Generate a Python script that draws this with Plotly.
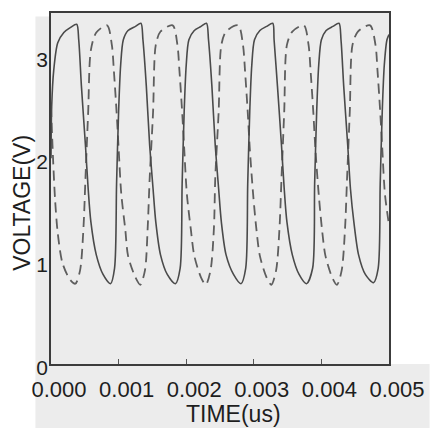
import plotly.graph_objects as go

# ---- data (time in us, voltage in V) ----
time_solid = [0, 0.00001, 0.00004, 0.00010, 0.00019, 0.00029, 0.00038,
              0.00041, 0.00045, 0.00051, 0.00055, 0.00059, 0.00067, 0.00077, 0.00088,
              0.00094, 0.00097, 0.00100, 0.00103, 0.00107, 0.00114, 0.00125, 0.00133,
              0.00136, 0.00141, 0.00146, 0.00151, 0.00155, 0.00162, 0.00172, 0.00184,
              0.00191, 0.00194, 0.00197, 0.00200, 0.00204, 0.00212, 0.00222, 0.00230,
              0.00233, 0.00238, 0.00243, 0.00248, 0.00252, 0.00259, 0.00270, 0.00281,
              0.00288, 0.00291, 0.00294, 0.00297, 0.00301, 0.00309, 0.00319, 0.00328,
              0.00330, 0.00335, 0.00341, 0.00345, 0.00349, 0.00357, 0.00367, 0.00378,
              0.00387, 0.00390, 0.00393, 0.00396, 0.00400, 0.00407, 0.00417, 0.00426,
              0.00429, 0.00433, 0.00439, 0.00443, 0.00448, 0.00455, 0.00465, 0.00477,
              0.00484, 0.00487, 0.00490, 0.00493, 0.00497, 0.00500]
volt_solid = [2.0, 2.5, 2.85, 3.12, 3.22, 3.27, 3.30,
              3.15, 2.70, 2.12, 1.70, 1.38, 1.06, 0.87, 0.78,
              0.93, 1.75, 2.45, 2.90, 3.15, 3.24, 3.28, 3.31,
              3.15, 2.70, 2.12, 1.70, 1.38, 1.06, 0.87, 0.78,
              0.93, 1.75, 2.45, 2.90, 3.15, 3.24, 3.28, 3.31,
              3.15, 2.70, 2.12, 1.70, 1.38, 1.06, 0.87, 0.78,
              0.93, 1.75, 2.45, 2.90, 3.15, 3.24, 3.28, 3.31,
              3.15, 2.70, 2.12, 1.70, 1.38, 1.06, 0.87, 0.78,
              0.93, 1.75, 2.45, 2.90, 3.15, 3.24, 3.28, 3.31,
              3.15, 2.70, 2.12, 1.70, 1.38, 1.06, 0.87, 0.79,
              0.93, 1.75, 2.45, 2.90, 3.15, 3.20]

time_dashed = [0, 0.00003, 0.00006, 0.00010, 0.00017, 0.00028, 0.00036,
               0.00043, 0.00048, 0.00051, 0.00055, 0.00059, 0.00067, 0.00083,
               0.00090, 0.00093, 0.00097, 0.00100, 0.00104, 0.00110, 0.00114, 0.00125, 0.00132,
               0.00139, 0.00143, 0.00146, 0.00151, 0.00155, 0.00162, 0.00180,
               0.00187, 0.00190, 0.00194, 0.00197, 0.00201, 0.00207, 0.00212, 0.00222, 0.00229,
               0.00236, 0.00241, 0.00243, 0.00248, 0.00252, 0.00259, 0.00277,
               0.00284, 0.00287, 0.00291, 0.00294, 0.00299, 0.00304, 0.00309, 0.00319, 0.00326,
               0.00333, 0.00338, 0.00341, 0.00345, 0.00349, 0.00357, 0.00374,
               0.00381, 0.00384, 0.00388, 0.00391, 0.00396, 0.00401, 0.00406, 0.00416, 0.00423,
               0.00430, 0.00435, 0.00438, 0.00442, 0.00446, 0.00454, 0.00472,
               0.00480, 0.00483, 0.00487, 0.00490, 0.00494, 0.00500]
volt_dashed = [2.5, 2.0, 1.6, 1.27, 0.98, 0.82, 0.78,
               0.91, 1.32, 1.81, 2.45, 3.05, 3.22, 3.29,
               3.10, 2.85, 2.45, 2.10, 1.65, 1.30, 1.05, 0.84, 0.77,
               0.91, 1.32, 1.81, 2.45, 3.10, 3.23, 3.29,
               3.10, 2.85, 2.45, 2.10, 1.65, 1.30, 1.05, 0.84, 0.77,
               0.91, 1.32, 1.81, 2.45, 3.10, 3.23, 3.29,
               3.10, 2.85, 2.45, 2.10, 1.65, 1.30, 1.05, 0.84, 0.77,
               0.91, 1.32, 1.81, 2.45, 3.10, 3.23, 3.29,
               3.10, 2.85, 2.45, 2.10, 1.65, 1.30, 1.05, 0.84, 0.77,
               0.91, 1.32, 1.81, 2.45, 3.10, 3.23, 3.29,
               3.10, 2.85, 2.45, 2.10, 1.65, 1.35]

x_ticks = [0, 0.001, 0.002, 0.003, 0.004, 0.005]
x_tick_labels = ["0.000", "0.001", "0.002", "0.003", "0.004", "0.005"]
y_ticks = [0, 1, 2, 3]
y_tick_labels = ["0", "1", "2", "3"]

FONT = "Liberation Sans, Arial, Helvetica, sans-serif"
GREY_BG = "#ececec"
TEXT = "#1e1e1e"

fig = go.Figure()
fig.add_trace(go.Scatter(x=time_dashed, y=volt_dashed, mode="lines",
                         line=dict(color="#5e5e5e", width=1.8, dash="10px,6px",
                                   shape="spline", smoothing=0.8),
                         showlegend=False, hoverinfo="skip"))
fig.add_trace(go.Scatter(x=time_solid, y=volt_solid, mode="lines",
                         line=dict(color="#4a4a4a", width=1.6,
                                   shape="spline", smoothing=0.8),
                         showlegend=False, hoverinfo="skip"))

fig.update_layout(
    width=436, height=428,
    margin=dict(l=51, r=40, t=11, b=64, pad=0),
    paper_bgcolor="white",
    plot_bgcolor=GREY_BG,
    font=dict(family=FONT, color=TEXT),
    xaxis=dict(range=[0, 0.005], tickvals=x_ticks, ticktext=x_tick_labels,
               ticks="inside", ticklen=5, tickwidth=1, tickcolor="#555",
               showline=True, linecolor="#3c3c3c", linewidth=1.5, mirror=True,
               showgrid=False, zeroline=False,
               tickfont=dict(size=22, family=FONT, color=TEXT),
               ticklabelshift=8, ticklabelstandoff=5),
    yaxis=dict(range=[0, 3.41], tickvals=y_ticks, ticktext=y_tick_labels,
               ticks="", showline=True, linecolor="#3c3c3c", linewidth=1.5, mirror=True,
               showgrid=False, zeroline=False,
               tickfont=dict(size=21, family=FONT, color=TEXT),
               ticklabelshift=4, ticklabelstandoff=-3),
    annotations=[
        dict(text="TIME(us)", xref="paper", yref="paper", x=0.539, y=-0.142,
             xanchor="center", yanchor="middle", showarrow=False,
             font=dict(size=23, family=FONT, color=TEXT)),
        dict(text="VOLTAGE(V)", xref="paper", yref="paper", x=-0.086, y=0.459,
             xanchor="center", yanchor="middle", showarrow=False, textangle=-90,
             font=dict(size=23, family=FONT, color=TEXT)),
    ],
    shapes=[
        dict(type="rect", xref="paper", yref="paper", x0=-0.046, x1=1.12,
             y0=-0.2, y1=0, fillcolor=GREY_BG, line=dict(width=0), layer="below"),
        dict(type="rect", xref="paper", yref="paper", x0=-0.046, x1=0,
             y0=0, y1=0.99, fillcolor=GREY_BG, line=dict(width=0), layer="below"),
    ],
)

fig.write_html("out.html", config={"displayModeBar": False},
               post_script="document.body.style.margin='0';document.body.style.overflow='hidden';")
